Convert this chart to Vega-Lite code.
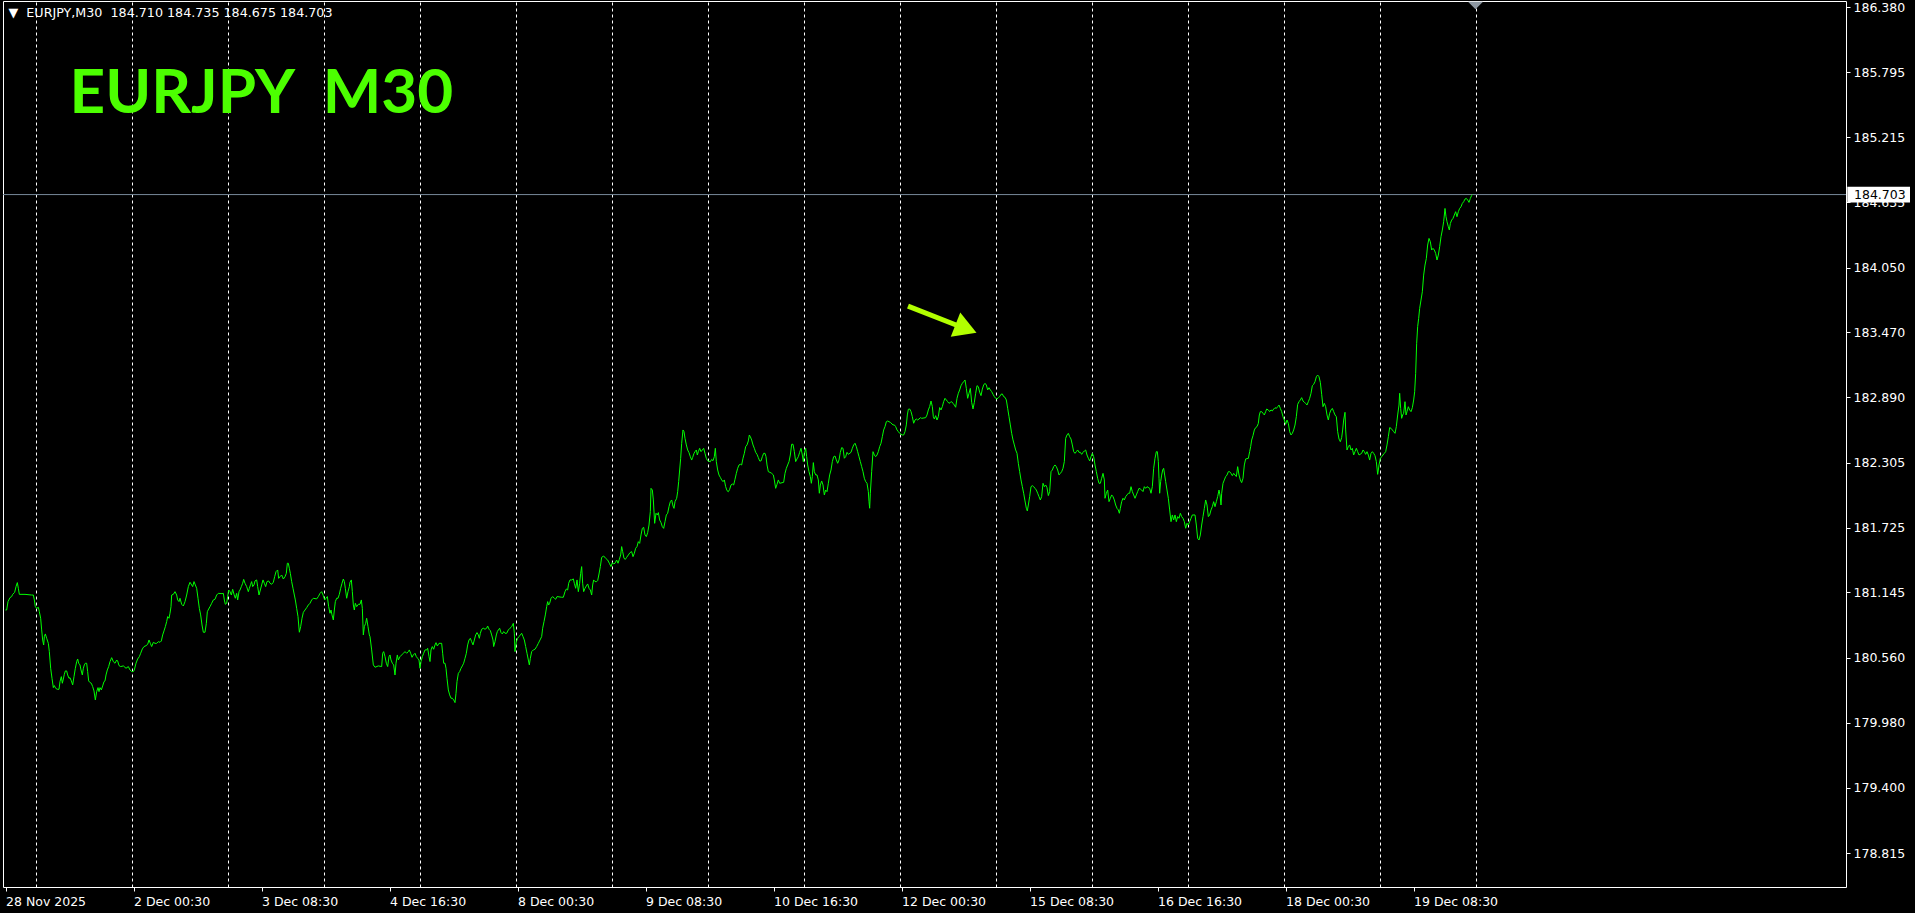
{
"$schema": "https://vega.github.io/schema/vega-lite/v6.json",
"width": 1843, "height": 886,
"autosize": "none",
"padding": {"left": 3, "top": 1, "right": 69, "bottom": 26},
"background": "#000000",
"config": {"view": {"stroke": "#FFFFFF", "strokeWidth": 1, "fill": "#000000"}},
"datasets": {
"price": [
{"i":0,"p":180.988},{"i":0.58,"p":180.988},{"i":1.25,"p":181.063},{"i":2.25,"p":181.099},{"i":3.08,"p":181.108},{"i":3.58,"p":181.128},{"i":4.58,"p":181.146},{"i":5.25,"p":181.197},{"i":5.92,"p":181.233},{"i":6.42,"p":181.182},{"i":6.92,"p":181.128},{"i":9.75,"p":181.128},{"i":13.08,"p":181.122},{"i":13.92,"p":181.122},{"i":14.42,"p":181.078},{"i":14.92,"p":181.018},{"i":15.58,"p":181.003},{"i":16.42,"p":181.012},{"i":16.92,"p":180.973},{"i":17.58,"p":180.914},{"i":18.08,"p":180.81},{"i":18.58,"p":180.72},{"i":19.08,"p":180.675},{"i":19.42,"p":180.75},{"i":19.92,"p":180.774},{"i":20.58,"p":180.735},{"i":21.42,"p":180.69},{"i":21.92,"p":180.616},{"i":22.58,"p":180.467},{"i":23.25,"p":180.377},{"i":23.92,"p":180.294},{"i":24.42,"p":180.312},{"i":25.08,"p":180.288},{"i":25.92,"p":180.279},{"i":26.75,"p":180.279},{"i":27.25,"p":180.348},{"i":27.92,"p":180.392},{"i":28.42,"p":180.333},{"i":28.92,"p":180.371},{"i":29.42,"p":180.413},{"i":29.92,"p":180.443},{"i":30.58,"p":180.443},{"i":31.08,"p":180.407},{"i":31.75,"p":180.377},{"i":32.25,"p":180.383},{"i":32.92,"p":180.354},{"i":33.58,"p":180.318},{"i":34.25,"p":180.392},{"i":34.92,"p":180.467},{"i":35.58,"p":180.526},{"i":36.08,"p":180.55},{"i":36.58,"p":180.512},{"i":37.25,"p":180.497},{"i":37.75,"p":180.452},{"i":38.42,"p":180.407},{"i":38.92,"p":180.467},{"i":39.42,"p":180.497},{"i":39.92,"p":180.512},{"i":40.58,"p":180.512},{"i":41.08,"p":180.437},{"i":41.58,"p":180.354},{"i":42.25,"p":180.339},{"i":42.92,"p":180.333},{"i":43.58,"p":180.303},{"i":44.25,"p":180.264},{"i":44.92,"p":180.184},{"i":45.58,"p":180.258},{"i":46.25,"p":180.294},{"i":46.75,"p":180.258},{"i":47.25,"p":180.294},{"i":47.92,"p":180.273},{"i":48.58,"p":180.309},{"i":49.25,"p":180.348},{"i":49.75,"p":180.354},{"i":50.25,"p":180.407},{"i":50.92,"p":180.452},{"i":51.58,"p":180.482},{"i":52.25,"p":180.526},{"i":53.08,"p":180.562},{"i":53.92,"p":180.526},{"i":54.75,"p":180.512},{"i":55.58,"p":180.541},{"i":56.08,"p":180.532},{"i":56.75,"p":180.491},{"i":57.58,"p":180.482},{"i":58.92,"p":180.488},{"i":60.25,"p":180.467},{"i":61.42,"p":180.482},{"i":62.25,"p":180.452},{"i":63.08,"p":180.437},{"i":63.92,"p":180.437},{"i":64.42,"p":180.452},{"i":65.25,"p":180.512},{"i":66.08,"p":180.55},{"i":66.92,"p":180.571},{"i":67.58,"p":180.601},{"i":68.42,"p":180.64},{"i":69.25,"p":180.661},{"i":70.25,"p":180.669},{"i":71.08,"p":180.681},{"i":71.75,"p":180.72},{"i":72.42,"p":180.69},{"i":73.08,"p":180.661},{"i":73.92,"p":180.699},{"i":74.75,"p":180.69},{"i":75.58,"p":180.69},{"i":76.42,"p":180.705},{"i":77.25,"p":180.699},{"i":77.92,"p":180.711},{"i":78.58,"p":180.765},{"i":79.25,"p":180.801},{"i":79.92,"p":180.839},{"i":80.58,"p":180.884},{"i":81.08,"p":180.929},{"i":81.75,"p":180.914},{"i":82.25,"p":180.959},{"i":82.75,"p":181.018},{"i":83.08,"p":181.122},{"i":83.92,"p":181.128},{"i":84.75,"p":181.152},{"i":85.58,"p":181.122},{"i":86.08,"p":181.078},{"i":86.75,"p":181.063},{"i":87.25,"p":181.093},{"i":88.08,"p":181.039},{"i":88.92,"p":181.024},{"i":89.75,"p":181.063},{"i":90.58,"p":181.122},{"i":91.42,"p":181.197},{"i":92.25,"p":181.236},{"i":93.08,"p":181.212},{"i":93.58,"p":181.197},{"i":94.25,"p":181.242},{"i":94.92,"p":181.212},{"i":95.58,"p":181.182},{"i":96.25,"p":181.093},{"i":96.92,"p":181.003},{"i":97.58,"p":180.944},{"i":98.25,"p":180.854},{"i":98.92,"p":180.789},{"i":99.75,"p":180.789},{"i":100.42,"p":180.869},{"i":100.92,"p":180.973},{"i":101.58,"p":180.997},{"i":102.25,"p":181.018},{"i":103.08,"p":181.048},{"i":103.92,"p":181.078},{"i":104.75,"p":181.084},{"i":105.58,"p":181.122},{"i":106.42,"p":181.137},{"i":108.25,"p":181.134},{"i":108.92,"p":181.137},{"i":109.42,"p":181.078},{"i":109.92,"p":181.039},{"i":110.58,"p":181.048},{"i":111.08,"p":181.108},{"i":111.58,"p":181.167},{"i":112.25,"p":181.152},{"i":112.92,"p":181.122},{"i":113.58,"p":181.173},{"i":114.25,"p":181.128},{"i":114.92,"p":181.093},{"i":115.58,"p":181.137},{"i":116.08,"p":181.078},{"i":116.75,"p":181.152},{"i":117.25,"p":181.167},{"i":117.92,"p":181.197},{"i":118.58,"p":181.227},{"i":119.08,"p":181.262},{"i":119.75,"p":181.227},{"i":120.58,"p":181.197},{"i":121.42,"p":181.152},{"i":121.92,"p":181.182},{"i":122.58,"p":181.218},{"i":123.08,"p":181.242},{"i":123.58,"p":181.197},{"i":124.25,"p":181.212},{"i":124.75,"p":181.248},{"i":125.58,"p":181.257},{"i":126.08,"p":181.197},{"i":126.75,"p":181.122},{"i":127.42,"p":181.167},{"i":128.08,"p":181.212},{"i":128.75,"p":181.257},{"i":129.42,"p":181.227},{"i":130.08,"p":181.197},{"i":130.75,"p":181.242},{"i":131.58,"p":181.248},{"i":132.25,"p":181.227},{"i":133.08,"p":181.218},{"i":133.92,"p":181.236},{"i":134.58,"p":181.286},{"i":135.25,"p":181.331},{"i":136.08,"p":181.346},{"i":136.58,"p":181.271},{"i":137.25,"p":181.286},{"i":138.08,"p":181.301},{"i":138.92,"p":181.265},{"i":139.75,"p":181.286},{"i":140.42,"p":181.316},{"i":140.92,"p":181.406},{"i":141.42,"p":181.406},{"i":141.92,"p":181.361},{"i":142.42,"p":181.316},{"i":143.08,"p":181.242},{"i":143.75,"p":181.182},{"i":144.42,"p":181.122},{"i":144.92,"p":181.078},{"i":145.58,"p":181.003},{"i":146.25,"p":180.929},{"i":146.92,"p":180.789},{"i":147.58,"p":180.839},{"i":148.25,"p":180.914},{"i":148.92,"p":180.967},{"i":149.75,"p":180.988},{"i":150.58,"p":181.009},{"i":151.42,"p":181.033},{"i":152.25,"p":181.048},{"i":153.08,"p":181.078},{"i":153.92,"p":181.093},{"i":155.58,"p":181.087},{"i":156.42,"p":181.108},{"i":157.25,"p":181.137},{"i":158.08,"p":181.152},{"i":158.92,"p":181.116},{"i":159.58,"p":181.078},{"i":160.25,"p":181.093},{"i":160.92,"p":181.108},{"i":161.58,"p":181.018},{"i":162.25,"p":180.959},{"i":162.75,"p":180.988},{"i":163.25,"p":180.944},{"i":163.92,"p":180.899},{"i":164.42,"p":180.988},{"i":164.92,"p":181.063},{"i":165.58,"p":181.093},{"i":166.25,"p":181.093},{"i":166.92,"p":181.128},{"i":167.58,"p":181.182},{"i":168.25,"p":181.227},{"i":168.92,"p":181.265},{"i":169.42,"p":181.242},{"i":169.92,"p":181.182},{"i":170.58,"p":181.093},{"i":171.25,"p":181.152},{"i":171.92,"p":181.197},{"i":172.25,"p":181.236},{"i":172.92,"p":181.257},{"i":173.42,"p":181.152},{"i":173.92,"p":181.033},{"i":174.42,"p":180.988},{"i":174.92,"p":181.048},{"i":175.58,"p":181.018},{"i":176.42,"p":181.039},{"i":177.25,"p":181.039},{"i":177.92,"p":181.078},{"i":178.42,"p":181.003},{"i":178.92,"p":180.765},{"i":179.42,"p":180.839},{"i":180.08,"p":180.869},{"i":180.58,"p":180.914},{"i":181.25,"p":180.839},{"i":181.92,"p":180.765},
{"i":182.25,"p":180.75},{"i":183.08,"p":180.631},{"i":183.92,"p":180.497},{"i":184.75,"p":180.476},{"i":186.42,"p":180.488},{"i":188.08,"p":180.482},{"i":188.58,"p":180.601},{"i":189.08,"p":180.616},{"i":189.75,"p":180.571},{"i":190.42,"p":180.512},{"i":191.08,"p":180.482},{"i":191.75,"p":180.571},{"i":192.25,"p":180.586},{"i":192.75,"p":180.541},{"i":193.42,"p":180.512},{"i":194.08,"p":180.497},{"i":194.75,"p":180.407},{"i":195.25,"p":180.512},{"i":195.92,"p":180.586},{"i":196.42,"p":180.541},{"i":197.25,"p":180.571},{"i":198.08,"p":180.586},{"i":198.92,"p":180.601},{"i":199.75,"p":180.616},{"i":200.58,"p":180.601},{"i":201.42,"p":180.616},{"i":201.92,"p":180.631},{"i":202.58,"p":180.601},{"i":203.25,"p":180.565},{"i":203.92,"p":180.586},{"i":204.75,"p":180.601},{"i":205.42,"p":180.571},{"i":206.08,"p":180.556},{"i":206.75,"p":180.541},{"i":207.25,"p":180.467},{"i":207.75,"p":180.527},{"i":208.42,"p":180.571},{"i":209.08,"p":180.601},{"i":209.75,"p":180.631},{"i":210.58,"p":180.631},{"i":211.08,"p":180.646},{"i":211.75,"p":180.571},{"i":212.25,"p":180.527},{"i":212.75,"p":180.631},{"i":213.42,"p":180.661},{"i":214.08,"p":180.637},{"i":214.75,"p":180.676},{"i":215.25,"p":180.696},{"i":215.92,"p":180.666},{"i":216.75,"p":180.69},{"i":218.08,"p":180.69},{"i":218.58,"p":180.601},{"i":219.08,"p":180.512},{"i":219.75,"p":180.512},{"i":220.25,"p":180.467},{"i":220.75,"p":180.377},{"i":221.42,"p":180.273},{"i":222.08,"p":180.229},{"i":222.75,"p":180.199},{"i":223.42,"p":180.199},{"i":224.08,"p":180.184},{"i":224.75,"p":180.16},{"i":225.25,"p":180.243},{"i":225.75,"p":180.348},{"i":226.42,"p":180.422},{"i":227.08,"p":180.437},{"i":227.75,"p":180.467},{"i":228.42,"p":180.488},{"i":229.08,"p":180.512},{"i":229.75,"p":180.556},{"i":230.42,"p":180.601},{"i":231.08,"p":180.676},{"i":231.75,"p":180.72},{"i":232.42,"p":180.735},{"i":233.08,"p":180.705},{"i":233.75,"p":180.676},{"i":234.42,"p":180.72},{"i":235.08,"p":180.765},{"i":235.75,"p":180.786},{"i":236.42,"p":180.765},{"i":236.92,"p":180.735},{"i":237.42,"p":180.78},{"i":238.08,"p":180.816},{"i":238.92,"p":180.825},{"i":239.75,"p":180.816},{"i":240.58,"p":180.825},{"i":241.08,"p":180.845},{"i":241.75,"p":180.816},{"i":242.42,"p":180.804},{"i":243.08,"p":180.765},{"i":243.75,"p":180.72},{"i":244.08,"p":180.661},{"i":244.75,"p":180.705},{"i":245.42,"p":180.765},{"i":245.92,"p":180.795},{"i":246.42,"p":180.81},{"i":247.08,"p":180.825},{"i":247.75,"p":180.786},{"i":248.42,"p":180.774},{"i":249.08,"p":180.795},{"i":249.75,"p":180.78},{"i":250.58,"p":180.78},{"i":251.42,"p":180.81},{"i":252.25,"p":180.825},{"i":253.08,"p":180.839},{"i":253.92,"p":180.869},{"i":254.42,"p":180.78},{"i":254.75,"p":180.616},{"i":255.42,"p":180.705},{"i":256.08,"p":180.735},{"i":256.75,"p":180.75},{"i":257.42,"p":180.765},{"i":258.08,"p":180.78},{"i":258.75,"p":180.75},{"i":259.42,"p":180.72},{"i":260.08,"p":180.661},{"i":260.75,"p":180.601},{"i":261.42,"p":180.541},{"i":261.92,"p":180.497},{"i":262.42,"p":180.556},{"i":263.08,"p":180.616},{"i":263.92,"p":180.631},{"i":264.75,"p":180.637},{"i":265.58,"p":180.661},{"i":266.42,"p":180.69},{"i":267.25,"p":180.72},{"i":268.08,"p":180.75},{"i":268.58,"p":180.825},{"i":269.25,"p":180.884},{"i":269.92,"p":180.944},{"i":270.58,"p":181.018},{"i":271.08,"p":181.063},{"i":271.58,"p":181.033},{"i":272.08,"p":181.048},{"i":272.75,"p":181.093},{"i":273.58,"p":181.108},{"i":274.42,"p":181.093},{"i":275.08,"p":181.084},{"i":275.75,"p":181.108},{"i":278.08,"p":181.102},{"i":278.92,"p":181.102},{"i":279.75,"p":181.152},{"i":280.42,"p":181.176},{"i":281.08,"p":181.167},{"i":281.58,"p":181.227},{"i":282.25,"p":181.257},{"i":283.08,"p":181.257},{"i":283.92,"p":181.266},{"i":284.42,"p":181.227},{"i":285.08,"p":181.182},{"i":285.75,"p":181.257},{"i":286.42,"p":181.152},{"i":287.08,"p":181.227},{"i":287.58,"p":181.316},{"i":288.08,"p":181.376},{"i":288.58,"p":181.227},{"i":289.08,"p":181.152},{"i":289.75,"p":181.182},{"i":290.42,"p":181.203},{"i":291.08,"p":181.221},{"i":291.75,"p":181.182},{"i":292.42,"p":181.167},{"i":293.08,"p":181.122},{"i":293.58,"p":181.212},{"i":294.08,"p":181.257},{"i":294.75,"p":181.242},{"i":295.58,"p":181.242},{"i":296.08,"p":181.251},{"i":296.75,"p":181.31},{"i":297.42,"p":181.376},{"i":298.08,"p":181.459},{"i":299.08,"p":181.471},{"i":300.08,"p":181.45},{"i":301.08,"p":181.435},{"i":301.92,"p":181.406},{"i":302.75,"p":181.376},{"i":303.42,"p":181.412},{"i":304.08,"p":181.4},{"i":304.75,"p":181.406},{"i":305.58,"p":181.435},{"i":306.25,"p":181.406},{"i":306.92,"p":181.441},{"i":307.58,"p":181.48},{"i":308.08,"p":181.555},{"i":308.58,"p":181.51},{"i":309.25,"p":181.45},{"i":309.92,"p":181.441},{"i":310.58,"p":181.459},{"i":311.42,"p":181.48},{"i":312.25,"p":181.501},{"i":313.08,"p":181.51},{"i":313.75,"p":181.465},{"i":314.42,"p":181.495},{"i":315.08,"p":181.54},{"i":315.75,"p":181.555},{"i":316.42,"p":181.599},{"i":317.08,"p":181.584},{"i":317.75,"p":181.659},{"i":318.42,"p":181.718},{"i":319.08,"p":181.727},{"i":319.75,"p":181.659},{"i":320.42,"p":181.644},{"i":321.08,"p":181.68},{"i":321.75,"p":181.748},{"i":322.42,"p":181.868},{"i":322.75,"p":182.076},{"i":323.42,"p":182.061},{"i":323.92,"p":181.972},{"i":324.58,"p":181.763},{"i":325.25,"p":181.853},{"i":325.92,"p":181.838},{"i":326.42,"p":181.859},{"i":327.08,"p":181.793},{"i":327.75,"p":181.769},{"i":328.42,"p":181.733},{"i":329.08,"p":181.718},{"i":329.75,"p":181.778},{"i":330.42,"p":181.838},{"i":331.08,"p":181.853},{"i":331.75,"p":181.912},{"i":332.42,"p":181.957},{"i":333.08,"p":181.972},{"i":333.75,"p":181.918},{"i":334.25,"p":181.897},{"i":334.75,"p":181.957},{"i":335.58,"p":181.987},{"i":336.08,"p":182.046},{"i":336.58,"p":182.136},{"i":337.08,"p":182.24},{"i":337.58,"p":182.344},{"i":338.08,"p":182.478},{"i":338.75,"p":182.598},{"i":339.25,"p":182.583},{"i":339.75,"p":182.523},{"i":340.42,"p":182.464},{"i":341.08,"p":182.419},{"i":341.75,"p":182.395},{"i":342.42,"p":182.359},{"i":343.08,"p":182.329},{"i":343.58,"p":182.353},{"i":344.25,"p":182.389},{"i":344.75,"p":182.404},{"i":345.42,"p":182.419},{"i":345.92,"p":182.374},{"i":346.42,"p":182.404},{"i":347.08,"p":182.434},{"i":347.75,"p":182.404},{"i":348.42,"p":182.419},{"i":349.08,"p":182.434},{"i":349.75,"p":182.389},{"i":350.42,"p":182.344},{"i":351.08,"p":182.323},{"i":352.42,"p":182.314},{"i":353.08,"p":182.335},{"i":353.75,"p":182.323},{"i":354.42,"p":182.359},{"i":354.92,"p":182.434},{"i":355.42,"p":182.314},{"i":356.08,"p":182.24},{"i":356.75,"p":182.195},{"i":357.42,"p":182.174},{"i":358.08,"p":182.151},{"i":358.75,"p":182.136},{"i":359.42,"p":182.151},{"i":360.08,"p":182.091},{"i":360.75,"p":182.055},{"i":361.42,"p":182.046},{"i":362.08,"p":182.067},{"i":362.75,"p":182.106},{"i":363.42,"p":182.115},{"i":364.08,"p":182.106},{"i":364.75,"p":182.157},
{"i":365.42,"p":182.21},{"i":366.08,"p":182.255},{"i":366.75,"p":182.285},{"i":367.42,"p":182.291},{"i":368.08,"p":182.285},{"i":368.75,"p":182.345},{"i":369.42,"p":182.389},{"i":370.08,"p":182.449},{"i":370.75,"p":182.464},{"i":371.42,"p":182.5},{"i":371.92,"p":182.553},{"i":372.42,"p":182.538},{"i":373.08,"p":182.508},{"i":373.75,"p":182.464},{"i":374.42,"p":182.434},{"i":375.08,"p":182.398},{"i":375.75,"p":182.38},{"i":376.42,"p":182.351},{"i":377.08,"p":182.321},{"i":377.75,"p":182.321},{"i":378.42,"p":182.359},{"i":379.08,"p":182.389},{"i":379.75,"p":182.389},{"i":380.25,"p":182.359},{"i":380.75,"p":182.285},{"i":381.42,"p":182.225},{"i":382.25,"p":182.219},{"i":383.08,"p":182.21},{"i":383.92,"p":182.196},{"i":384.42,"p":182.151},{"i":385.08,"p":182.076},{"i":385.75,"p":182.112},{"i":386.42,"p":182.151},{"i":387.08,"p":182.121},{"i":389.08,"p":182.13},{"i":389.75,"p":182.21},{"i":390.42,"p":182.255},{"i":391.08,"p":182.285},{"i":391.75,"p":182.315},{"i":392.42,"p":182.374},{"i":393.08,"p":182.47},{"i":393.75,"p":182.47},{"i":394.42,"p":182.404},{"i":395.08,"p":182.315},{"i":395.75,"p":182.339},{"i":396.42,"p":182.359},{"i":397.08,"p":182.398},{"i":397.75,"p":182.434},{"i":398.42,"p":182.374},{"i":398.92,"p":182.315},{"i":399.42,"p":182.389},{"i":400.08,"p":182.434},{"i":400.58,"p":182.359},{"i":401.08,"p":182.285},{"i":401.75,"p":182.225},{"i":402.42,"p":182.181},{"i":402.92,"p":182.121},{"i":403.42,"p":182.181},{"i":403.92,"p":182.306},{"i":404.42,"p":182.225},{"i":405.08,"p":182.196},{"i":405.75,"p":182.196},{"i":406.42,"p":182.151},{"i":406.92,"p":182.032},{"i":407.42,"p":182.106},{"i":408.08,"p":182.142},{"i":408.75,"p":182.106},{"i":409.42,"p":182.017},{"i":410.08,"p":182.061},{"i":410.75,"p":182.046},{"i":411.42,"p":182.121},{"i":412.08,"p":182.196},{"i":412.75,"p":182.24},{"i":413.42,"p":182.315},{"i":414.08,"p":182.359},{"i":414.75,"p":182.365},{"i":415.42,"p":182.33},{"i":416.08,"p":182.3},{"i":416.75,"p":182.33},{"i":417.42,"p":182.398},{"i":418.08,"p":182.44},{"i":418.75,"p":182.434},{"i":419.42,"p":182.345},{"i":420.08,"p":182.359},{"i":420.75,"p":182.398},{"i":421.42,"p":182.38},{"i":422.75,"p":182.398},{"i":423.42,"p":182.434},{"i":424.08,"p":182.464},{"i":424.75,"p":182.479},{"i":425.42,"p":182.449},{"i":426.08,"p":182.404},{"i":426.75,"p":182.359},{"i":427.42,"p":182.315},{"i":428.08,"p":182.27},{"i":428.75,"p":182.225},{"i":429.42,"p":182.166},{"i":430.08,"p":182.136},{"i":430.75,"p":182.121},{"i":431.42,"p":182.047},{"i":431.75,"p":181.957},{"i":432.08,"p":181.898},{"i":432.42,"p":182.032},{"i":433.08,"p":182.225},{"i":433.75,"p":182.404},{"i":434.42,"p":182.374},{"i":435.08,"p":182.359},{"i":435.75,"p":182.374},{"i":436.42,"p":182.404},{"i":437.08,"p":182.449},{"i":437.75,"p":182.479},{"i":438.42,"p":182.538},{"i":439.08,"p":182.598},{"i":439.75,"p":182.628},{"i":440.42,"p":182.672},{"i":441.08,"p":182.678},{"i":442.42,"p":182.666},{"i":443.75,"p":182.643},{"i":444.42,"p":182.643},{"i":445.08,"p":182.628},{"i":445.75,"p":182.598},{"i":446.42,"p":182.583},{"i":447.08,"p":182.568},{"i":448.42,"p":182.553},{"i":449.08,"p":182.553},{"i":449.75,"p":182.583},{"i":450.42,"p":182.643},{"i":450.92,"p":182.732},{"i":451.42,"p":182.783},{"i":452.08,"p":182.786},{"i":452.75,"p":182.762},{"i":453.42,"p":182.717},{"i":454.08,"p":182.658},{"i":454.75,"p":182.687},{"i":455.42,"p":182.696},{"i":456.08,"p":182.687},{"i":456.75,"p":182.696},{"i":457.42,"p":182.708},{"i":458.08,"p":182.702},{"i":460.08,"p":182.708},{"i":460.75,"p":182.732},{"i":461.42,"p":182.777},{"i":462.08,"p":182.807},{"i":462.75,"p":182.857},{"i":463.42,"p":182.807},{"i":463.92,"p":182.717},{"i":464.42,"p":182.696},{"i":465.08,"p":182.726},{"i":465.75,"p":182.687},{"i":466.42,"p":182.717},{"i":467.08,"p":182.798},{"i":467.75,"p":182.777},{"i":468.42,"p":182.807},{"i":469.08,"p":182.851},{"i":469.75,"p":182.881},{"i":470.42,"p":182.866},{"i":471.08,"p":182.851},{"i":471.75,"p":182.836},{"i":472.42,"p":182.845},{"i":473.08,"p":182.851},{"i":473.75,"p":182.836},{"i":474.42,"p":182.821},{"i":475.08,"p":182.801},{"i":475.75,"p":182.881},{"i":476.42,"p":182.926},{"i":477.08,"p":182.956},{"i":477.75,"p":182.994},{"i":478.42,"p":183.015},{"i":479.08,"p":183.03},{"i":479.75,"p":183.045},{"i":480.42,"p":182.97},{"i":481.08,"p":182.881},{"i":481.75,"p":182.926},{"i":482.42,"p":182.97},{"i":483.08,"p":182.845},{"i":483.75,"p":182.786},{"i":484.42,"p":182.845},{"i":485.08,"p":182.926},{"i":485.75,"p":182.994},{"i":486.42,"p":182.985},{"i":487.08,"p":182.935},{"i":487.75,"p":182.905},{"i":488.42,"p":182.964},{"i":489.08,"p":183.0},{"i":489.75,"p":183.015},{"i":490.42,"p":183.0},{"i":491.08,"p":182.956},{"i":491.75,"p":182.976},{"i":492.42,"p":182.956},{"i":493.08,"p":182.941},{"i":493.75,"p":182.917},{"i":494.42,"p":182.896},{"i":495.08,"p":182.881},{"i":495.75,"p":182.875},{"i":496.42,"p":182.887},{"i":497.08,"p":182.896},{"i":497.75,"p":182.917},{"i":498.42,"p":182.92},{"i":499.08,"p":182.896},{"i":499.75,"p":182.89},{"i":500.42,"p":182.866},{"i":501.08,"p":182.792},{"i":501.75,"p":182.717},{"i":502.42,"p":182.643},{"i":503.08,"p":182.568},{"i":503.75,"p":182.509},{"i":504.42,"p":182.464},{"i":505.08,"p":182.419},{"i":505.75,"p":182.389},{"i":506.42,"p":182.3},{"i":507.08,"p":182.225},{"i":507.75,"p":182.151},{"i":508.42,"p":182.091},{"i":509.08,"p":182.032},{"i":509.75,"p":181.963},{"i":510.42,"p":181.898},{"i":510.92,"p":181.874},{"i":511.42,"p":181.927},{"i":512.08,"p":182.002},{"i":512.75,"p":182.091},{"i":513.42,"p":182.1},{"i":514.08,"p":182.091},{"i":514.75,"p":182.076},{"i":515.42,"p":182.061},{"i":516.08,"p":182.032},{"i":516.75,"p":182.002},{"i":517.42,"p":181.972},{"i":518.08,"p":182.002},{"i":518.75,"p":182.121},{"i":519.42,"p":182.091},{"i":520.08,"p":182.106},{"i":520.75,"p":182.082},{"i":521.42,"p":182.011},{"i":522.08,"p":182.047},{"i":522.75,"p":182.225},{"i":523.42,"p":182.24},{"i":524.08,"p":182.27},{"i":524.75,"p":182.285},{"i":525.42,"p":182.27},{"i":526.08,"p":182.24},{"i":526.75,"p":182.196},{"i":527.42,"p":182.21},{"i":528.08,"p":182.225},{"i":528.75,"p":182.255},{"i":529.42,"p":182.315},{"i":530.08,"p":182.523},{"i":530.75,"p":182.553},{"i":531.42,"p":182.568},{"i":532.08,"p":182.538},{"i":532.75,"p":182.517},{"i":533.42,"p":182.464},{"i":534.08,"p":182.404},{"i":534.75,"p":182.389},{"i":535.42,"p":182.404},{"i":536.08,"p":182.419},{"i":536.75,"p":182.398},{"i":537.42,"p":182.398},{"i":538.08,"p":182.38},{"i":538.75,"p":182.398},{"i":539.42,"p":182.41},{"i":540.08,"p":182.419},{"i":540.75,"p":182.374},{"i":541.42,"p":182.345},{"i":542.08,"p":182.321},{"i":542.75,"p":182.359},{"i":543.42,"p":182.389},{"i":544.08,"p":182.359},{"i":544.75,"p":182.285},{"i":545.42,"p":182.225},{"i":546.08,"p":182.166},{"i":546.75,"p":182.121},{"i":547.42,"p":182.121},{"i":548.08,"p":182.166},{"i":548.75,"p":182.21},{"i":549.42,"p":182.151},
{"i":549.75,"p":181.987},{"i":550.42,"p":182.032},{"i":551.08,"p":182.061},{"i":551.75,"p":181.957},{"i":552.42,"p":181.987},{"i":553.08,"p":182.017},{"i":553.75,"p":182.002},{"i":554.42,"p":181.972},{"i":555.08,"p":181.927},{"i":555.75,"p":181.897},{"i":556.42,"p":181.883},{"i":556.92,"p":181.853},{"i":557.42,"p":181.897},{"i":558.08,"p":181.957},{"i":558.75,"p":181.987},{"i":559.42,"p":181.972},{"i":560.08,"p":182.002},{"i":560.75,"p":182.017},{"i":561.42,"p":182.032},{"i":562.08,"p":182.032},{"i":562.75,"p":182.091},{"i":563.42,"p":182.047},{"i":564.08,"p":182.017},{"i":564.75,"p":181.987},{"i":565.42,"p":182.017},{"i":566.08,"p":182.047},{"i":566.75,"p":182.076},{"i":567.42,"p":182.07},{"i":568.08,"p":182.061},{"i":568.75,"p":182.047},{"i":569.42,"p":182.091},{"i":570.08,"p":182.076},{"i":570.75,"p":182.091},{"i":572.08,"p":182.076},{"i":572.75,"p":182.032},{"i":573.42,"p":182.091},{"i":574.08,"p":182.255},{"i":574.75,"p":182.344},{"i":575.42,"p":182.404},{"i":575.92,"p":182.404},{"i":576.42,"p":182.315},{"i":576.75,"p":182.166},{"i":577.08,"p":182.032},{"i":577.58,"p":182.136},{"i":578.08,"p":182.195},{"i":578.58,"p":182.24},{"i":579.08,"p":182.255},{"i":579.58,"p":182.195},{"i":580.08,"p":182.136},{"i":580.75,"p":182.061},{"i":581.42,"p":181.987},{"i":582.08,"p":181.883},{"i":582.75,"p":181.778},{"i":583.42,"p":181.838},{"i":584.08,"p":181.793},{"i":584.75,"p":181.838},{"i":585.42,"p":181.778},{"i":586.08,"p":181.823},{"i":586.75,"p":181.808},{"i":587.42,"p":181.853},{"i":588.08,"p":181.823},{"i":588.75,"p":181.808},{"i":589.42,"p":181.778},{"i":590.08,"p":181.719},{"i":590.75,"p":181.763},{"i":591.42,"p":181.748},{"i":592.08,"p":181.778},{"i":592.75,"p":181.808},{"i":593.42,"p":181.838},{"i":594.75,"p":181.838},{"i":595.42,"p":181.748},{"i":596.08,"p":181.629},{"i":596.75,"p":181.614},{"i":597.42,"p":181.659},{"i":598.08,"p":181.748},{"i":598.75,"p":181.823},{"i":599.42,"p":181.897},{"i":600.08,"p":181.972},{"i":600.75,"p":181.927},{"i":601.42,"p":181.823},{"i":602.08,"p":181.838},{"i":602.75,"p":181.883},{"i":603.42,"p":181.912},{"i":604.08,"p":181.957},{"i":604.75,"p":181.912},{"i":605.42,"p":181.957},{"i":606.08,"p":182.002},{"i":606.75,"p":182.061},{"i":607.25,"p":182.017},{"i":607.75,"p":181.927},{"i":608.08,"p":182.032},{"i":608.75,"p":182.121},{"i":609.42,"p":182.151},{"i":610.08,"p":182.181},{"i":610.75,"p":182.195},{"i":611.42,"p":182.225},{"i":612.08,"p":182.225},{"i":612.75,"p":182.21},{"i":613.42,"p":182.189},{"i":614.08,"p":182.21},{"i":614.75,"p":182.195},{"i":615.42,"p":182.181},{"i":616.08,"p":182.27},{"i":616.75,"p":182.195},{"i":617.42,"p":182.151},{"i":618.08,"p":182.127},{"i":618.75,"p":182.166},{"i":619.42,"p":182.285},{"i":620.08,"p":182.339},{"i":621.42,"p":182.344},{"i":622.08,"p":182.404},{"i":622.58,"p":182.449},{"i":623.08,"p":182.508},{"i":623.75,"p":182.547},{"i":624.42,"p":182.598},{"i":625.08,"p":182.619},{"i":625.75,"p":182.628},{"i":626.42,"p":182.657},{"i":626.92,"p":182.732},{"i":627.42,"p":182.762},{"i":628.08,"p":182.762},{"i":628.75,"p":182.747},{"i":629.42,"p":182.732},{"i":630.08,"p":182.762},{"i":630.58,"p":182.785},{"i":631.42,"p":182.777},{"i":632.08,"p":182.762},{"i":632.75,"p":182.777},{"i":633.42,"p":182.768},{"i":634.08,"p":182.785},{"i":634.75,"p":182.797},{"i":635.42,"p":182.791},{"i":636.08,"p":182.806},{"i":636.75,"p":182.821},{"i":637.42,"p":182.791},{"i":638.08,"p":182.762},{"i":638.75,"p":182.717},{"i":639.42,"p":182.687},{"i":640.08,"p":182.648},{"i":640.75,"p":182.687},{"i":641.42,"p":182.657},{"i":642.08,"p":182.583},{"i":642.75,"p":182.553},{"i":643.42,"p":182.568},{"i":644.08,"p":182.598},{"i":644.75,"p":182.642},{"i":645.42,"p":182.717},{"i":646.08,"p":182.827},{"i":646.75,"p":182.851},{"i":647.42,"p":182.866},{"i":648.08,"p":182.887},{"i":648.75,"p":182.857},{"i":649.42,"p":182.845},{"i":650.08,"p":182.836},{"i":650.75,"p":182.821},{"i":651.42,"p":182.851},{"i":652.08,"p":182.881},{"i":652.75,"p":182.926},{"i":653.42,"p":182.994},{"i":654.08,"p":183.006},{"i":654.75,"p":183.03},{"i":655.42,"p":183.074},{"i":656.08,"p":183.089},{"i":656.75,"p":183.074},{"i":657.42,"p":183.024},{"i":658.08,"p":182.917},{"i":658.75,"p":182.806},{"i":659.42,"p":182.836},{"i":660.08,"p":182.806},{"i":660.75,"p":182.732},{"i":661.42,"p":182.687},{"i":662.08,"p":182.747},{"i":662.75,"p":182.777},{"i":663.42,"p":182.791},{"i":664.08,"p":182.762},{"i":664.75,"p":182.732},{"i":665.42,"p":182.717},{"i":666.08,"p":182.583},{"i":666.75,"p":182.517},{"i":667.42,"p":182.493},{"i":668.08,"p":182.529},{"i":668.58,"p":182.598},{"i":669.08,"p":182.687},{"i":669.75,"p":182.756},{"i":670.08,"p":182.598},{"i":670.75,"p":182.419},{"i":671.42,"p":182.449},{"i":672.08,"p":182.464},{"i":672.75,"p":182.419},{"i":673.42,"p":182.434},{"i":674.08,"p":182.374},{"i":674.75,"p":182.404},{"i":675.42,"p":182.434},{"i":676.08,"p":182.404},{"i":676.75,"p":182.374},{"i":678.08,"p":182.389},{"i":678.75,"p":182.419},{"i":679.42,"p":182.404},{"i":680.08,"p":182.38},{"i":680.75,"p":182.404},{"i":681.42,"p":182.374},{"i":682.08,"p":182.329},{"i":682.75,"p":182.389},{"i":683.42,"p":182.404},{"i":684.08,"p":182.389},{"i":684.75,"p":182.368},{"i":685.42,"p":182.315},{"i":686.08,"p":182.201},{"i":686.42,"p":182.24},{"i":686.75,"p":182.285},{"i":687.42,"p":182.344},{"i":688.08,"p":182.359},{"i":688.75,"p":182.374},{"i":689.42,"p":182.389},{"i":690.08,"p":182.404},{"i":690.75,"p":182.464},{"i":691.42,"p":182.538},{"i":692.08,"p":182.619},{"i":692.75,"p":182.613},{"i":693.42,"p":182.598},{"i":694.08,"p":182.583},{"i":694.75,"p":182.568},{"i":695.42,"p":182.628},{"i":696.08,"p":182.732},{"i":696.75,"p":182.821},{"i":697.08,"p":182.926},{"i":697.58,"p":182.791},{"i":698.08,"p":182.702},{"i":698.58,"p":182.732},{"i":699.08,"p":182.747},{"i":699.75,"p":182.851},{"i":700.25,"p":182.732},{"i":700.75,"p":182.762},{"i":701.42,"p":182.806},{"i":702.08,"p":182.777},{"i":702.75,"p":182.762},{"i":703.42,"p":182.797},{"i":704.08,"p":182.866},{"i":704.58,"p":182.94},{"i":705.08,"p":183.104},{"i":705.58,"p":183.373},{"i":706.08,"p":183.522},{"i":706.58,"p":183.596},{"i":707.08,"p":183.685},{"i":707.75,"p":183.76},{"i":708.42,"p":183.834},{"i":709.08,"p":183.983},{"i":709.75,"p":184.073},{"i":710.42,"p":184.132},{"i":711.08,"p":184.252},{"i":711.75,"p":184.311},{"i":712.42,"p":184.281},{"i":713.08,"p":184.207},{"i":713.75,"p":184.222},{"i":714.42,"p":184.207},{"i":715.08,"p":184.177},{"i":715.75,"p":184.118},{"i":716.42,"p":184.162},{"i":717.08,"p":184.237},{"i":717.75,"p":184.326},{"i":718.42,"p":184.386},{"i":719.08,"p":184.46},{"i":719.75,"p":184.579},{"i":720.25,"p":184.505},{"i":720.75,"p":184.46},{"i":721.42,"p":184.415},{"i":721.92,"p":184.386},{"i":722.42,"p":184.445},{"i":723.08,"p":184.475},{"i":723.75,"p":184.49},{"i":724.42,"p":184.52},{"i":725.08,"p":184.55},{"i":725.75,"p":184.505},{"i":726.42,"p":184.55},{"i":727.08,"p":184.579},{"i":727.75,"p":184.594},{"i":728.42,"p":184.624},{"i":729.08,"p":184.639},{"i":729.75,"p":184.663},{"i":730.42,"p":184.669},{"i":731.08,"p":184.654},{"i":731.75,"p":184.633},{"i":732.42,"p":184.669},{"i":733.08,"p":184.695},{"i":733.42,"p":184.703}
],
"arrow": [{"i":451.25,"p":183.706},{"i":476.25,"p":183.53}],
"head": [{"i":480.25,"p":183.503}],
"last": [{"p":184.703}],
"shift": [{"i":735,"p":186.393}]
},
"layer": [
{
"data": {"name": "last"},
"mark": {"type": "rule", "color": "#778899", "strokeWidth": 1},
"encoding": {
"y": {"field": "p", "type": "quantitative", "scale": {"domain": [178.511, 186.434], "nice": false, "zero": false}, "axis": null}
}
},
{
"data": {"name": "price"},
"mark": {"type": "line", "color": "#00FF00", "strokeWidth": 1, "clip": true},
"encoding": {
"x": {"field": "i", "type": "quantitative", "scale": {"domain": [-1.25, 920.25], "nice": false, "zero": false},
"axis": {"orient": "top", "values": [15,63,111,159,207,255,303,351,399,447,495,543,591,639,687,735], "grid": true, "gridColor": "#FFFFFF", "gridDash": [3,3], "gridWidth": 1, "gridOpacity": 1, "ticks": false, "labels": false, "domain": false,
"title": "▼\u00a0 EURJPY,M30\u00a0 184.710 184.735 184.675 184.703", "titleAnchor": "start", "titleAlign": "left", "titleX": 5, "titleY": 11.5, "titleBaseline": "middle", "titleAngle": 0, "titleFont": "DejaVu Sans", "titleFontSize": 12.7, "titleFontWeight": "normal", "titleColor": "#FFFFFF"}},
"y": {"field": "p", "type": "quantitative", "scale": {"domain": [178.511, 186.434], "nice": false, "zero": false},
"axis": {"orient": "right", "values": [186.38,185.795,185.215,184.635,184.05,183.47,182.89,182.305,181.725,181.145,180.56,179.98,179.4,178.815], "format": ".3f", "grid": false, "domain": false, "ticks": true, "tickColor": "#FFFFFF", "tickSize": 4, "tickWidth": 1, "labelColor": "#FFFFFF", "labelFont": "DejaVu Sans", "labelFontSize": 12.5, "labelPadding": 3, "labelFlush": false, "labelOverlap": false, "labelBaseline": "middle", "labelAlign": "left", "title": null}}
}
},
{
"data": {"name": "arrow"},
"mark": {"type": "line", "color": "#B2FF00", "strokeWidth": 5, "strokeCap": "butt"},
"encoding": {
"x": {"field": "i", "type": "quantitative", "scale": {"domain": [-1.25, 920.25], "nice": false, "zero": false}, "axis": null},
"y": {"field": "p", "type": "quantitative", "scale": {"domain": [178.511, 186.434], "nice": false, "zero": false},
"axis": {"orient": "left", "labels": false, "ticks": false, "domain": false, "grid": false, "title": "EURJPY\u00a0\u00a0M30", "titleAngle": 0, "titleAnchor": "start", "titleAlign": "left", "titleBaseline": "alphabetic", "titleX": 66, "titleY": 111, "titleFont": "Lato", "titleFontSize": 62, "titleFontWeight": "bold", "titleColor": "#4CFF00"}}
}
},
{
"data": {"name": "head"},
"mark": {"type": "point", "shape": "triangle-right", "filled": true, "color": "#B2FF00", "opacity": 1, "size": 676, "angle": 21.4},
"encoding": {
"x": {"field": "i", "type": "quantitative", "scale": {"domain": [-1.25, 920.25], "nice": false, "zero": false}, "axis": null},
"y": {"field": "p", "type": "quantitative", "scale": {"domain": [178.511, 186.434], "nice": false, "zero": false}, "axis": null}
}
},
{
"data": {"name": "shift"},
"mark": {"type": "point", "shape": "M-1,-0.5L1,-0.5L0,0.5Z", "filled": true, "color": "#8C96A0", "opacity": 1, "size": 225},
"encoding": {
"x": {"field": "i", "type": "quantitative", "scale": {"domain": [-1.25, 920.25], "nice": false, "zero": false},
"axis": {"orient": "bottom", "values": [0,64,128,192,256,320,384,448,512,576,640,704], "labelExpr": "['28 Nov 2025','2 Dec 00:30','3 Dec 08:30','4 Dec 16:30','8 Dec 00:30','9 Dec 08:30','10 Dec 16:30','12 Dec 00:30','15 Dec 08:30','16 Dec 16:30','18 Dec 00:30','19 Dec 08:30'][round(datum.value/64)]", "grid": false, "domain": false, "ticks": true, "tickColor": "#FFFFFF", "tickSize": 4, "tickWidth": 1, "labelColor": "#FFFFFF", "labelFont": "DejaVu Sans", "labelFontSize": 12.5, "labelAlign": "left", "labelBaseline": "top", "labelPadding": 4, "labelFlush": false, "labelOverlap": false, "title": null}},
"y": {"field": "p", "type": "quantitative", "scale": {"domain": [178.511, 186.434], "nice": false, "zero": false}, "axis": null}
}
},
{
"data": {"name": "last"},
"mark": {"type": "point", "shape": "M-1,-0.25H1V0.25H-1Z", "filled": true, "color": "#FFFFFF", "opacity": 1, "size": 3931, "xOffset": 32.65},
"encoding": {
"x": {"value": "width"},
"y": {"field": "p", "type": "quantitative", "scale": {"domain": [178.511, 186.434], "nice": false, "zero": false}, "axis": null}
}
},
{
"data": {"name": "last"},
"mark": {"type": "text", "color": "#000000", "align": "left", "baseline": "middle", "dx": 8, "font": "DejaVu Sans", "fontSize": 12.5},
"encoding": {
"x": {"value": "width"},
"y": {"field": "p", "type": "quantitative", "scale": {"domain": [178.511, 186.434], "nice": false, "zero": false}, "axis": null},
"text": {"field": "p", "type": "quantitative", "format": ".3f"}
}
}
],
"resolve": {"axis": {"x": "independent", "y": "independent"}}
}
